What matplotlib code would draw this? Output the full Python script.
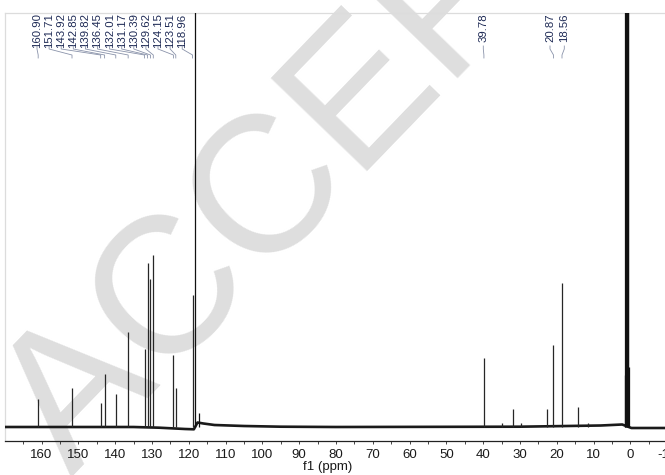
import matplotlib
matplotlib.use('Agg')
import matplotlib.pyplot as plt
from matplotlib.transforms import blended_transform_factory
from matplotlib.ticker import MultipleLocator

# ---------------- data ----------------
# labelled / unlabelled sample peaks (ppm, relative intensity)
peak_ppm = [160.90, 151.71, 143.92, 142.85, 139.82, 136.45, 132.01, 131.17,
            130.39, 129.62, 124.15, 123.51, 118.96, 39.78, 35.0, 31.9, 29.6,
            22.7, 20.87, 18.56, 14.1, 11.5]
peak_int = [28, 39, 24, 53, 33, 95, 78, 164, 148, 172, 72, 39, 132, 69, 4,
            18, 4, 18, 82, 144, 20, 4]

# solvent (CD3CN) signals, off scale
solvent_ppm = [118.26, 117.3, 1.55, 1.35, 1.15, 0.95, 0.75, 0.55, 0.35]
solvent_int = [2000, 14, 52, 700, 1400, 1700, 1400, 700, 60]

# baseline drift
base_ppm = [172, 135, 128, 121, 118.6, 117.6, 116, 113, 105, 95, 80, 30, 8, 2.2, -0.3, -20]
base_lvl = [0, 0, -0.7, -2, -2.3, 4.5, 3.5, 2, 1, 0.3, 0, 0.3, 1.5, 2.5, -1, -1]

# peak labels
labels_left = ["160.90", "151.71", "143.92", "142.85", "139.82", "136.45", "132.01",
               "131.17", "130.39", "129.62", "124.15", "123.51", "118.96"]
labels_right = ["39.78", "20.87", "18.56"]

xticks = list(range(160, -20, -10))

# ---------------- layout ----------------
W, H = 665, 475
fig = plt.figure(figsize=(W / 100, H / 100), dpi=100)

px0, px1 = 5, 690          # axes left/right in pixels (right runs past the edge)
py_top, py_bot = 12.5, 441  # axes top/bottom in pixels (from top)
ax = fig.add_axes([px0 / W, 1 - py_bot / H, (px1 - px0) / W, (py_bot - py_top) / H])
ax.patch.set_alpha(0)

ppm_per_px = 1 / 3.68
zero_px = 630.3
ax.set_xlim((zero_px - px0) * ppm_per_px, (zero_px - px1) * ppm_per_px)
ax.set_ylim(-14, 414.5)

# watermark (drawn beneath everything)
fig.text(72 / W, 1 - 478 / H, "ACCEPTED MANUSCRIPT", fontsize=140,
         family="Liberation Sans", color="#dedede", rotation=46,
         rotation_mode="anchor", ha="left", va="baseline", zorder=-5)

# baseline
ax.plot(base_ppm, base_lvl, color="#1a1a1a", lw=1.9, zorder=3, solid_joinstyle="round")
# peaks
ax.vlines(peak_ppm, 0, peak_int, color="#262626", lw=0.9, zorder=4)
ax.vlines(solvent_ppm, 0, solvent_int, color="#111111", lw=0.9, zorder=4)

# axes styling
ax.spines["right"].set_visible(False)
ax.spines["bottom"].set_color("#222222")
ax.spines["bottom"].set_linewidth(0.9)
for s in ["top", "left"]:
    ax.spines[s].set_color("#dcdcdc")
    ax.spines[s].set_linewidth(0.9)
ax.set_yticks([])
ax.set_xticks(xticks)
ax.set_xticklabels([str(t) for t in xticks])
ax.xaxis.set_minor_locator(MultipleLocator(5))
ax.tick_params(axis="x", which="both", direction="out", length=2.5, width=0.7,
               color="#444444", pad=3.5, labelsize=9.5, labelcolor="#1a1a1a")
for lab in ax.get_xticklabels():
    lab.set_family("Liberation Sans")
ax.set_xlabel("f1 (ppm)", fontsize=9.5, family="Liberation Sans", color="#1a1a1a")
ax.xaxis.set_label_coords((328 - px0) / (px1 - px0), -(461 - py_bot) / (py_bot - py_top))

# peak labels with leader lines
tr = blended_transform_factory(ax.transData, ax.transAxes)
def yf(py):
    return (py_bot - py) / (py_bot - py_top)

lab_color = "#1e2a55"
lead_color = "#8a93aa"
peaks_left = peak_ppm[:13]
for i, (txt, pk) in enumerate(zip(labels_left, peaks_left)):
    lx = (zero_px - (37 + 12.1 * i)) * ppm_per_px
    ax.text(lx, yf(13.5), txt, transform=tr, rotation=90, ha="center", va="top",
            fontsize=8.2, family="Liberation Sans", color=lab_color, zorder=6)
    ax.plot([lx, lx, pk, pk], [yf(46), yf(49), yf(55), yf(58)], transform=tr,
            color=lead_color, lw=0.6, zorder=6)

right_px = [483.3, 550, 564.3]
right_pk = [39.78, 20.87, 18.56]
for txt, pxl, pk in zip(labels_right, right_px, right_pk):
    lx = (zero_px - pxl) * ppm_per_px
    ax.text(lx, yf(13.5), txt, transform=tr, rotation=90, ha="center", va="top",
            fontsize=8.2, family="Liberation Sans", color=lab_color, zorder=6)
    ax.plot([lx, lx, pk, pk], [yf(46), yf(49), yf(55), yf(58)], transform=tr,
            color=lead_color, lw=0.6, zorder=6)

fig.savefig("out.png", dpi=100)
